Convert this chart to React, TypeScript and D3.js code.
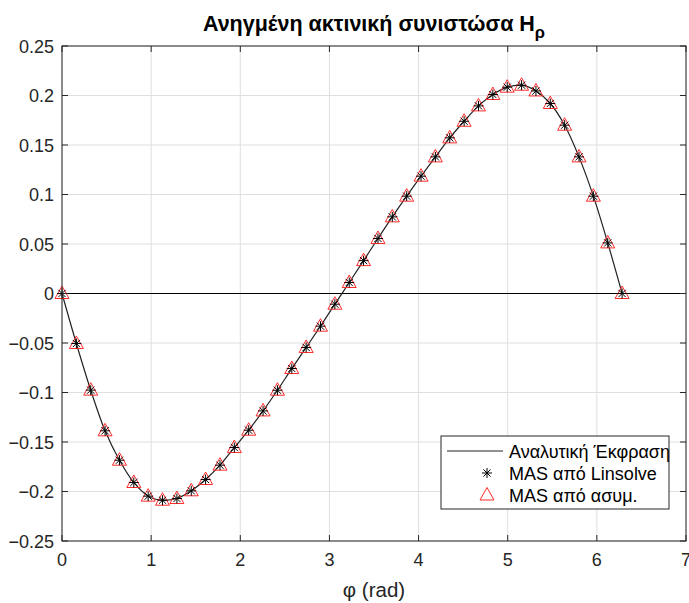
import React from "react";
import * as d3 from "d3";

const N = 40;
const phiValues: number[] = Array.from({ length: N }, (_, k) => (2 * Math.PI * k) / (N - 1));
const hValues: number[] = [
  0, -0.0505, -0.0976, -0.1387, -0.1684, -0.1909, -0.2047, -0.2088, -0.2071, -0.1993,
  -0.1879, -0.1734, -0.1556, -0.1381, -0.1186, -0.0977, -0.0758, -0.0545, -0.033, -0.0108,
  0.0111, 0.0332, 0.0556, 0.0774, 0.0983, 0.1185, 0.138, 0.1572, 0.174, 0.1895,
  0.201, 0.2084, 0.2104, 0.2046, 0.1919, 0.17, 0.138, 0.0983, 0.0511, 0,
];
const xTicks = [0, 1, 2, 3, 4, 5, 6, 7];
const yTicks = [-0.25, -0.2, -0.15, -0.1, -0.05, 0, 0.05, 0.1, 0.15, 0.2, 0.25];
const legendLabels = ["Αναλυτική Έκφραση", "MAS από Linsolve", "MAS από ασυμ."];

const W = 689;
const H = 603;
const L = 62, R = 686, T = 46, B = 541;
const FONT = "'Liberation Sans', Arial, Helvetica, sans-serif";

export default function App() {
  const x = d3.scaleLinear().domain([0, 7]).range([L, R]);
  const y = d3.scaleLinear().domain([-0.25, 0.25]).range([B, T]);
  const pts = phiValues.map((p, i) => [p, hValues[i]] as [number, number]);
  const line = d3
    .line<[number, number]>()
    .x((d) => x(d[0]))
    .y((d) => y(d[1]))
    .curve(d3.curveCatmullRom);
  const axisColor = "#262626";
  const gridColor = "#dfdfdf";
  const tickLen = 6;

  const star = (cx: number, cy: number, r: number, key: string) => {
    const a = r * 0.72;
    return (
      <g key={key} stroke="#000" strokeWidth={1}>
        <line x1={cx - r} y1={cy} x2={cx + r} y2={cy} />
        <line x1={cx} y1={cy - r} x2={cx} y2={cy + r} />
        <line x1={cx - a} y1={cy - a} x2={cx + a} y2={cy + a} />
        <line x1={cx - a} y1={cy + a} x2={cx + a} y2={cy - a} />
      </g>
    );
  };
  const tri = (cx: number, cy: number, key: string) => (
    <path
      key={key}
      d={`M${cx},${cy - 7.5} L${cx + 7},${cy + 5} L${cx - 7},${cy + 5} Z`}
      fill="none"
      stroke="#ff2a2a"
      strokeWidth={1}
    />
  );

  const lgX = 441, lgY = 436, lgW = 228, lgH = 73;

  return (
    <svg width={W} height={H} style={{ display: "block", position: "absolute", left: 0, top: 0 }} fontFamily={FONT}>
      <rect x={0} y={0} width={W} height={H} fill="#fff" />
      {/* grid */}
      {xTicks.map((t) => (
        <line key={"gx" + t} x1={x(t)} x2={x(t)} y1={T} y2={B} stroke={gridColor} strokeWidth={1} />
      ))}
      {yTicks.map((t) => (
        <line key={"gy" + t} x1={L} x2={R} y1={y(t)} y2={y(t)} stroke={gridColor} strokeWidth={1} />
      ))}
      {/* zero line */}
      <line x1={L} x2={R} y1={y(0)} y2={y(0)} stroke="#000" strokeWidth={1} />
      {/* analytic curve */}
      <path d={line(pts) || ""} fill="none" stroke="#222" strokeWidth={1.2} />
      {/* markers */}
      {pts.map((d, i) => tri(x(d[0]), y(d[1]), "t" + i))}
      {pts.map((d, i) => star(x(d[0]), y(d[1]), 5, "s" + i))}
      {/* axes box */}
      <rect x={L} y={T} width={R - L} height={B - T} fill="none" stroke={axisColor} strokeWidth={1} />
      {xTicks.map((t) => (
        <g key={"xt" + t}>
          <line x1={x(t)} x2={x(t)} y1={B} y2={B - tickLen} stroke={axisColor} />
          <line x1={x(t)} x2={x(t)} y1={T} y2={T + tickLen} stroke={axisColor} />
          <text x={x(t)} y={B + 25} textAnchor="middle" fontSize={18} fill="#262626">
            {t}
          </text>
        </g>
      ))}
      {yTicks.map((t) => (
        <g key={"yt" + t}>
          <line x1={L} x2={L + tickLen} y1={y(t)} y2={y(t)} stroke={axisColor} />
          <line x1={R} x2={R - tickLen} y1={y(t)} y2={y(t)} stroke={axisColor} />
          <text x={L - 8} y={y(t) + 6.5} textAnchor="end" fontSize={18} fill="#262626">
            {t === 0 ? "0" : d3.format("")(t)}
          </text>
        </g>
      ))}
      {/* title */}
      <text x={(L + R) / 2} y={31} textAnchor="middle" fontSize={21.5} fontWeight="bold" fill="#000">
        Ανηγμένη ακτινική συνιστώσα H
        <tspan fontSize={16.5} dy={7}>ρ</tspan>
      </text>
      {/* x label */}
      <text x={(L + R) / 2} y={597} textAnchor="middle" fontSize={20.5} fill="#262626">
        φ (rad)
      </text>
      {/* legend */}
      <rect x={lgX} y={lgY} width={lgW} height={lgH} fill="#fff" stroke={axisColor} strokeWidth={1} />
      <line x1={447} x2={503} y1={451} y2={451} stroke="#222" strokeWidth={1.2} />
      {star(487, 473, 5, "ls")}
      {tri(487, 495, "lt")}
      {legendLabels.map((s, i) => (
        <text key={s} x={509} y={451 + i * 22 + 6.5} fontSize={18} fill="#000">
          {s}
        </text>
      ))}
    </svg>
  );
}
